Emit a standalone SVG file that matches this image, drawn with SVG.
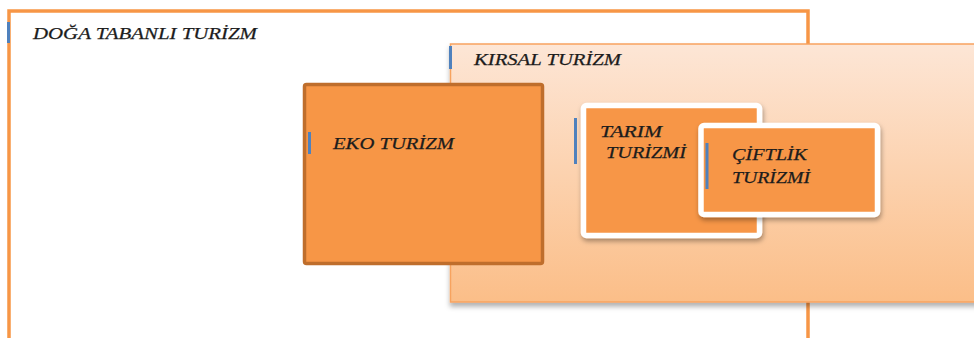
<svg xmlns="http://www.w3.org/2000/svg" width="974" height="338" viewBox="0 0 974 338">
<defs>
<linearGradient id="kirsalGrad" x1="0" y1="0" x2="0" y2="1">
<stop offset="0" stop-color="#FDE6D6"/>
<stop offset="1" stop-color="#FBBE88"/>
</linearGradient>
<filter id="shadow" x="-10%" y="-10%" width="130%" height="130%">
<feDropShadow dx="1" dy="3" stdDeviation="2.5" flood-color="#000" flood-opacity="0.35"/>
</filter>
<filter id="shadowSoft" x="-10%" y="-10%" width="120%" height="120%">
<feDropShadow dx="0" dy="4" stdDeviation="2.5" flood-color="#000" flood-opacity="0.3"/>
</filter>
</defs>
<style>
.lbl{font-family:"Liberation Serif","Times New Roman",serif;font-style:italic;font-size:17px;fill:#1c1c1c;stroke:#1c1c1c;stroke-width:0.25}
.mark{fill:#4F81BD}
.inner{fill:#F79646;stroke:#fff;stroke-width:5.5}
</style>
<rect width="974" height="338" fill="#fff"/>
<g id="doga">
<rect x="9" y="11" width="799" height="340" fill="#fff" stroke="#F79646" stroke-width="3.5"/>
<rect class="mark" x="7" y="22" width="3" height="21"/>
<text class="lbl" x="33" y="39" textLength="224" lengthAdjust="spacingAndGlyphs">DOĞA TABANLI TURİZM</text>
</g>
<g id="kirsal">
<rect x="450.5" y="44" width="540" height="258" fill="url(#kirsalGrad)" stroke="#F7A35F" stroke-width="1.5" filter="url(#shadowSoft)"/>
<rect class="mark" x="449" y="46" width="3" height="23"/>
<text class="lbl" x="474" y="65" textLength="147" lengthAdjust="spacingAndGlyphs">KIRSAL TURİZM</text>
</g>
<g id="eko">
<rect x="304.5" y="84.5" width="238" height="179" rx="2" fill="#F79646" stroke="#BF6E2C" stroke-width="3.5"/>
<rect class="mark" x="308" y="132" width="3" height="22"/>
<text class="lbl" x="333" y="149" textLength="121" lengthAdjust="spacingAndGlyphs">EKO TURİZM</text>
</g>
<g id="tarim">
<rect class="inner" x="583.5" y="105.5" width="176" height="130" rx="3" filter="url(#shadow)"/>
<rect class="mark" x="574" y="118" width="3" height="46"/>
<text class="lbl" x="600" y="137" textLength="62" lengthAdjust="spacingAndGlyphs">TARIM</text>
<text class="lbl" x="606" y="158" textLength="80" lengthAdjust="spacingAndGlyphs">TURİZMİ</text>
</g>
<g id="ciftlik">
<rect class="inner" x="701" y="125.5" width="176.5" height="89" rx="3" filter="url(#shadow)"/>
<rect class="mark" x="705.5" y="143" width="3" height="46"/>
<text class="lbl" x="732" y="160" textLength="75" lengthAdjust="spacingAndGlyphs">ÇİFTLİK</text>
<text class="lbl" x="732" y="183" textLength="78" lengthAdjust="spacingAndGlyphs">TURİZMİ</text>
</g>
<g id="connectors"></g>
</svg>
